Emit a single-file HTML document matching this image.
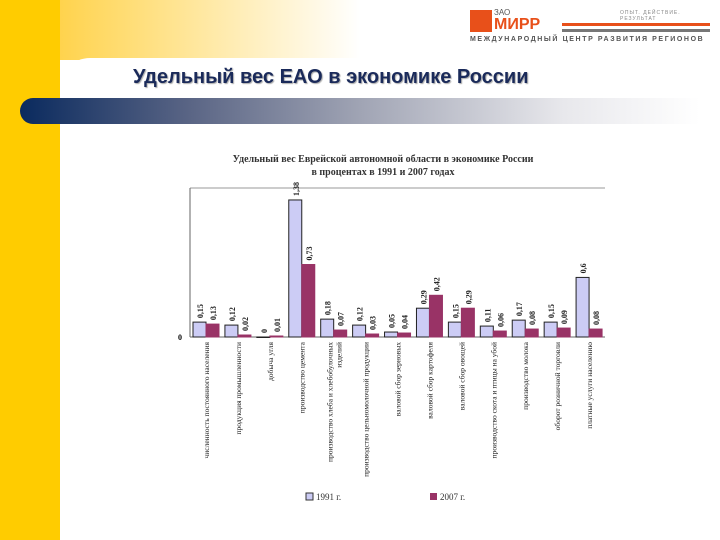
<!DOCTYPE html>
<html><head><meta charset="utf-8"><style>
body{margin:0;width:720px;height:540px;overflow:hidden;background:#fff;font-family:"Liberation Sans",sans-serif;position:relative}
.abs{position:absolute}
</style></head><body>
<div class="abs" style="left:0;top:0;width:60px;height:540px;background:#ffcc00"></div>
<div class="abs" style="left:60px;top:0;width:300px;height:60px;background:linear-gradient(90deg,#ffd34d,#fff)"></div>
<div class="abs" style="left:60px;top:58px;width:660px;height:482px;background:#fff;border-top-left-radius:30px"></div>
<div class="abs" style="left:470px;top:8px;width:240px;height:36px">
 <div class="abs" style="left:0;top:2px;width:22px;height:22px;background:#e8501a"></div>
 <div class="abs" style="left:24px;top:0;font-size:8px;color:#555">ЗАО</div>
 <div class="abs" style="left:24px;top:8px;font-size:16px;font-weight:bold;color:#e8501a">МИРР</div>
 <div class="abs" style="left:92px;top:15px;width:148px;height:3px;background:#e8501a"></div>
 <div class="abs" style="left:92px;top:21px;width:148px;height:3px;background:#777"></div>
 <div class="abs" style="left:150px;top:2px;font-size:5px;color:#888;letter-spacing:1px">ОПЫТ. ДЕЙСТВИЕ. РЕЗУЛЬТАТ</div>
 <div class="abs" style="left:0;top:28px;font-size:7px;font-weight:bold;color:#555;letter-spacing:1.6px;white-space:nowrap">МЕЖДУНАРОДНЫЙ ЦЕНТР РАЗВИТИЯ РЕГИОНОВ</div>
</div>
<div class="abs" style="left:133px;top:66px;font-size:20px;font-weight:bold;color:#1a2a5a;text-shadow:1px 1px 1px #aaa;white-space:nowrap">Удельный вес ЕАО в экономике России</div>
<div class="abs" style="left:20px;top:98px;width:680px;height:26px;border-radius:13px 0 0 13px;background:linear-gradient(90deg,#0a2a5e,#5a6585 25%,#a0a4b4 50%,#e8e8ec 80%,#fff)"></div>
<svg class="abs" style="left:0;top:0" width="720" height="540" font-family="Liberation Serif,serif">
<text x="383" y="162" text-anchor="middle" font-size="10" font-weight="bold" fill="#333">Удельный вес Еврейской автономной области в экономике России</text>
<text x="383" y="175" text-anchor="middle" font-size="10" font-weight="bold" fill="#333">в процентах в 1991 и 2007 годах</text>
<line x1="190" y1="188" x2="605" y2="188" stroke="#999"/>
<line x1="190" y1="188" x2="190" y2="337" stroke="#666"/>
<line x1="190" y1="337" x2="605" y2="337" stroke="#666"/>
<text x="178" y="340" font-size="8" font-weight="bold">0</text>
<g id="bars"></g>
<rect x="306" y="493" width="7" height="7" fill="#ccccf5" stroke="#333"/>
<text x="316" y="500" font-size="9" fill="#333">1991 г.</text>
<rect x="430" y="493" width="7" height="7" fill="#993366"/>
<text x="440" y="500" font-size="9" fill="#333">2007 г.</text>
</svg>
<script>
const categories=["численность постоянного населения","продукция промышленности","добыча угля","производство цемента","производство хлеба и хлебобулочных|изделий","производство цельномолочной продукции","валовой сбор зерновых","валовой сбор картофеля","валовой сбор овощей","производство скота и птицы на убой","производство молока","оборот розничной торговли","платные услуги населению"];
const v1991=[0.15,0.12,0,1.38,0.18,0.12,0.05,0.29,0.15,0.11,0.17,0.15,0.6];
const v2007=[0.13,0.02,0.01,0.73,0.07,0.03,0.04,0.42,0.29,0.06,0.08,0.09,0.08];
const NS="http://www.w3.org/2000/svg",g=document.getElementById('bars');
const x0=190,w=415,y0=337,k=99.3;
const cw=w/categories.length;
const y=v=>y0-v*k;
function mk(t,a){const e=document.createElementNS(NS,t);for(const n in a)e.setAttribute(n,a[n]);g.appendChild(e);return e;}
categories.forEach((c,i)=>{
 const cx=x0+i*cw;
 [[v1991,'#ccccf5','#222',3],[v2007,'#993366','#993366',16]].forEach((s,j)=>{
  const v=s[0][i],bx=cx+s[3];
  const r=mk('rect',{x:bx,y:y(v),width:13,height:Math.max(y0-y(v),0.5),fill:s[1],stroke:s[2],'stroke-width':1});
  
  
  const t=mk('text',{transform:`translate(${bx+10},${y(v)-4}) rotate(-90)`,'font-size':8,'font-weight':'bold',fill:'#222'});
  t.textContent=String(v).replace('.',',');
  
  
 });
 const parts=c.split('|');
 parts.forEach((p,pi)=>{
  const t=mk('text',{transform:`translate(${cx+cw/2+3+pi*9-(parts.length-1)*4},342) rotate(-90)`,'font-size':7.5,fill:'#222','text-anchor':'end'});
  t.textContent=p;
  
  
 });
});
</script>
</body></html>
